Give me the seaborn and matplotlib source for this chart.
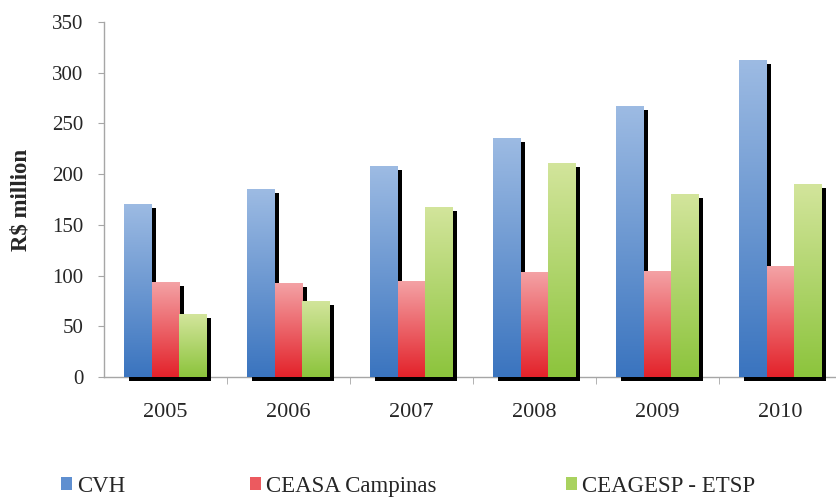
import numpy as np
import pandas as pd
import matplotlib
matplotlib.use("Agg")
import matplotlib.pyplot as plt
import seaborn as sns
from matplotlib.patches import Rectangle, Patch
from matplotlib.colors import LinearSegmentedColormap

years = ["2005", "2006", "2007", "2008", "2009", "2010"]
series = ["CVH", "CEASA Campinas", "CEAGESP - ETSP"]
cvh = [171, 185, 208, 236, 267, 313]
ceasa = [94, 93, 95, 104, 105, 109]
ceagesp = [62, 75, 168, 211, 180, 190]
yticks = [0, 50, 100, 150, 200, 250, 300, 350]

top_colors = ["#9dbbe3", "#f4a3a6", "#d3e59c"]
bot_colors = ["#3a74bf", "#e3222a", "#8cc43c"]
mid_colors = ["#5f8fd0", "#ec5a5f", "#a9d25f"]

df = pd.DataFrame({
    "year": years * 3,
    "series": [s for s in series for _ in years],
    "value": cvh + ceasa + ceagesp,
})

sns.set_style("white")
plt.rcParams["font.family"] = ["Liberation Serif", "DejaVu Serif"]

fig = plt.figure(figsize=(8.37, 4.98), dpi=100)
ax = fig.add_axes([104 / 837, 121 / 498, 738 / 837, 355 / 498])

sns.barplot(data=df, x="year", y="value", hue="series", hue_order=series,
            order=years, palette=mid_colors, width=0.667, dodge=True,
            legend=False, ax=ax, linewidth=0, errorbar=None, saturation=1)

ax.set_xlim(-0.5, 5.5)
ax.set_ylim(0, 350)

# px -> data conversions
px_x = 6.0 / 738.0
px_y = 350.0 / 355.0
dx = 4.5 * px_x
dy = 4.0 * px_y

patches = list(ax.patches)
for i, p in enumerate(patches):
    s_idx = i // len(years)
    x, w, h = p.get_x(), p.get_width(), p.get_height()
    sh = Rectangle((x + dx, -dy), w, h, facecolor="black", edgecolor="none",
                   zorder=1, clip_on=False)
    ax.add_patch(sh)
    p.set_zorder(2)
    cmap = LinearSegmentedColormap.from_list(
        "g%d" % s_idx, [bot_colors[s_idx], top_colors[s_idx]])
    grad = np.linspace(0, 1, 256).reshape(-1, 1)
    im = ax.imshow(grad, cmap=cmap, origin="lower", aspect="auto",
                   extent=[x, x + w, 0, h], zorder=3)
    im.set_clip_path(p)

ax.set_xlim(-0.5, 5.5)
ax.set_ylim(0, 350)
ax.set_aspect("auto")

for side in ["top", "right"]:
    ax.spines[side].set_visible(False)
for side in ["left", "bottom"]:
    ax.spines[side].set_color("#a6a6a6")
    ax.spines[side].set_linewidth(1.0)
    ax.spines[side].set_zorder(0.5)

ax.set_yticks(yticks)
ax.set_yticklabels([str(v) for v in yticks])
ax.tick_params(axis="y", which="major", direction="out", length=4,
               color="#a6a6a6", labelsize=15, pad=11, left=True)
ax.set_xticks(range(len(years)))
ax.set_xticklabels(years)
ax.tick_params(axis="x", which="major", length=0, labelsize=16, pad=19)
ax.set_xticks(np.arange(0.5, 5.5, 1.0), minor=True)
ax.tick_params(axis="x", which="minor", direction="out", length=5,
               color="#a6a6a6", bottom=True)
ax.set_xlabel("")
ax.set_ylabel("R\\$ million", fontsize=16.5, fontweight="bold", labelpad=8)
ax.yaxis.set_label_coords(-72 / 738, 0.5)
ax.grid(False)

# legend
pos = [61, 250, 566]
for k in range(3):
    h = Patch(facecolor=mid_colors[k], edgecolor="none")
    fig.legend([h], [series[k]], loc="center left",
               bbox_to_anchor=(pos[k] / 837, 12 / 498),
               frameon=False, fontsize=16.5, handlelength=0.5,
               handleheight=0.5, handletextpad=0.2, borderpad=0,
               borderaxespad=0)

fig.savefig("out.png", dpi=100)
